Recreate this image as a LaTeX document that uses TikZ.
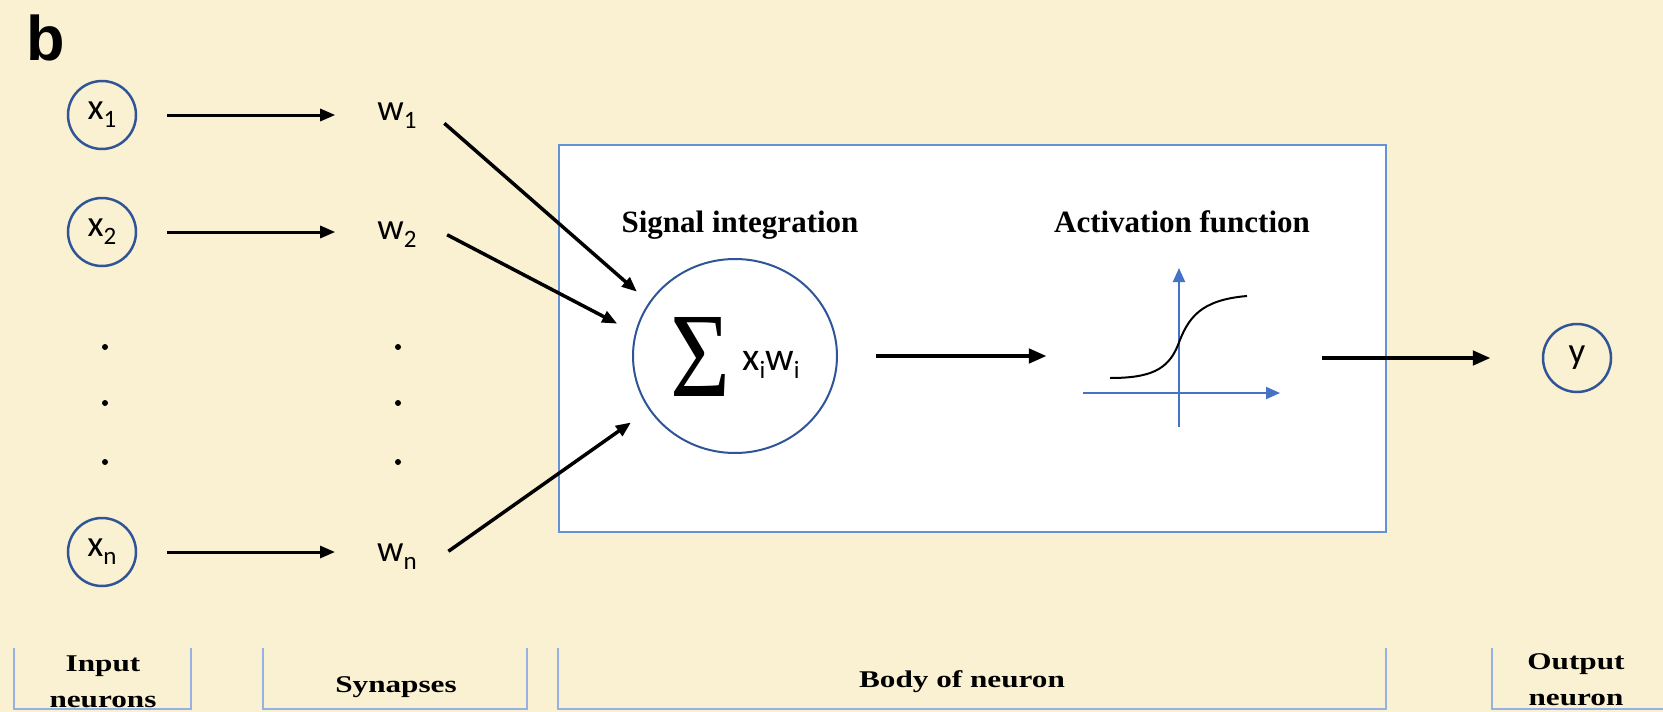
\documentclass[tikz,border=0pt]{standalone}
\usepackage{fontspec}
\usepackage{graphicx}
\usetikzlibrary{positioning,arrows.meta,shapes.geometric}

\setmainfont{Liberation Serif}
\newfontfamily\varfont{Carlito}
\newfontfamily\headfont{Liberation Serif}
\newfontfamily\basefont[FakeStretch=1.3]{Liberation Serif}
\newfontfamily\panelfont{Liberation Sans}

\definecolor{bgbeige}{RGB}{250,241,210}
\definecolor{nblue}{RGB}{47,85,151}
\definecolor{boxblue}{RGB}{100,146,214}
\definecolor{brblue}{RGB}{150,178,226}
\definecolor{axblue}{RGB}{68,114,196}

\newcommand{\lowidx}[1]{\raisebox{-8pt}{\fontsize{25}{25}\selectfont #1}}

\begin{document}
\begin{tikzpicture}[x=1pt, y=-1pt,
  neuron/.style={circle, draw=nblue, line width=2.5pt, minimum size=68pt, inner sep=0pt, font=\varfont\fontsize{37}{42}\selectfont},
  syn/.style={inner sep=2pt, font=\varfont\fontsize{37}{42}\selectfont},
  body/.style={draw=boxblue, line width=1.5pt, fill=white, minimum width=827pt, minimum height=387pt},
  sumnode/.style={ellipse, draw=nblue, line width=2pt, minimum width=204pt, minimum height=194pt, inner sep=0pt},
  head/.style={anchor=base, inner sep=0pt, font=\headfont\bfseries\fontsize{31}{36}\selectfont},
  seclabel/.style={align=center, inner sep=0pt, font=\basefont\bfseries\fontsize{24}{36}\selectfont},
  bracket/.style={draw=brblue, line width=2pt},
  arr/.style={-{Triangle[length=15pt, width=12pt]}, line width=3pt},
  bigarr/.style={-{Triangle[length=18pt, width=14pt]}, line width=4.5pt},
  axis/.style={-{Triangle[length=14pt, width=12pt]}, draw=axblue, line width=2pt}
]

\useasboundingbox (0,0) rectangle (1663,712);
\fill[bgbeige] (0,0) rectangle (1663,712);

\node[anchor=base west, inner sep=0pt, font=\panelfont\bfseries\fontsize{63}{70}\selectfont] (panel) at (26,60) {b};

% input neurons and synapses
\node[neuron] (x1) at (102,115) {x\lowidx{1}};
\node[neuron] (x2) at (102,232) {x\lowidx{2}};
\node[neuron] (xn) at (102,552) {x\lowidx{n}};

\node[syn] (w1) at (397,116) {w\lowidx{1}};
\node[syn] (w2) at (397,235) {w\lowidx{2}};
\node[syn] (wn) at (397,557) {w\lowidx{n}};

\foreach \yy in {347,403,462} {
  \fill (105,\yy) circle (3pt);
  \fill (398,\yy) circle (3pt);
}

\foreach \i in {1,2,n}
  \draw[arr, shorten <=30pt, shorten >=40pt] (x\i) -- (x\i -| w\i.west);

% body of neuron
\node[body] (body) at (972.5,338.5) {};

\node[head] (sighead) at (740,232) {Signal integration};
\node[head] (acthead) at (1182,232) {Activation function};

\node[sumnode] (sum) at (735,356) {};
\node[inner sep=0pt] (sigma) at (700,357) {\resizebox*{60pt}{79pt}{\headfont Σ}};
\node[anchor=base west, inner sep=0pt, font=\varfont\fontsize{40}{44}\selectfont] (xw) at (742,370) {x\lowidx{i}w\lowidx{i}};

\node[minimum width=197pt, minimum height=159pt, inner sep=0pt] (act) at (1181.5,347.5) {};
\draw[axis] (1083,393) -- (1280,393);
\draw[axis] (1179,427) -- (1179,268);
\draw[line width=2pt] (1110,378) .. controls (1150,378) and (1168,370) .. (1178,345) .. controls (1188,318) and (1200,300) .. (1247,296);

\draw[arr, line width=3.5pt, shorten <=34pt, shorten >=16pt] (w1.north east) -- (sum.148);
\draw[arr, line width=3.5pt, shorten <=32pt, shorten >=20pt] (w2.north east) -- (sum.167);
\draw[arr, line width=3.5pt, shorten <=36pt, shorten >=22pt] (wn.south east) -- (sum.212);

\draw[bigarr, shorten <=38pt, shorten >=36pt] (sum.east) -- (sum.east -| act.west);

% output neuron
\node[neuron] (y) at (1577,358) {y};
\draw[bigarr, shorten <=42pt, shorten >=51pt] (y.west -| act.east) -- (y.west);

% section brackets
\draw[bracket] (14,648) |- (191,709) -- (191,648);
\draw[bracket] (263,648) |- (527,709) -- (527,648);
\draw[bracket] (558,648) |- (1386,709) -- (1386,648);
\draw[bracket] (1492,648) |- (1663,709);

\node[seclabel] (inlab) at (103,682) {Input\\neurons};
\node[seclabel, anchor=base] (synlab) at (396,692) {Synapses};
\node[seclabel, anchor=base] (bodylab) at (962,687) {Body of neuron};
\node[seclabel] (outlab) at (1576,680) {Output\\neuron};

\end{tikzpicture}
\end{document}
